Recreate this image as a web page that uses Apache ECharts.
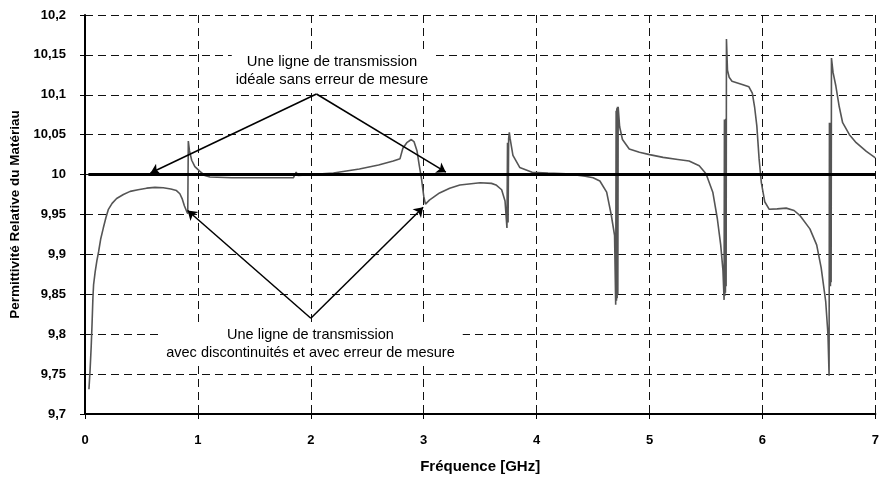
<!DOCTYPE html>
<html>
<head>
<meta charset="utf-8">
<script src="https://cdn.jsdelivr.net/npm/echarts@6/dist/echarts.min.js"></script>
<style>
html,body{margin:0;padding:0;background:#fff;}
#chart{width:882px;height:479px;}
</style>
</head>
<body>
<div id="chart"></div>
<script>
// Measured curve: frequency (GHz) and relative permittivity
const freq = [
  0.035,0.045,0.055,0.063,0.070,0.076,0.090,0.105,0.120,0.140,0.162,0.185,0.206,0.240,0.280,0.340,0.400,0.470,0.546,0.620,
  0.693,0.760,0.810,0.840,0.860,0.880,0.900,0.910,0.915,0.925,0.945,0.973,1.018,1.060,1.106,1.300,1.500,1.700,1.845,1.860,
  1.870,1.885,2.000,2.200,2.430,2.600,2.730,2.790,2.805,2.815,2.850,2.890,2.915,2.940,2.960,2.980,3.000,3.015,3.050,3.140,
  3.230,3.320,3.500,3.600,3.640,3.690,3.720,3.737,3.742,3.747,3.752,3.758,3.765,3.790,3.850,3.960,4.100,4.260,4.430,4.500,4.560,
  4.620,4.660,4.690,4.700,4.704,4.707,4.710,4.713,4.716,4.719,4.722,4.735,4.760,4.820,4.910,5.000,5.120,5.250,5.350,5.440,5.500,5.560,
  5.600,5.630,5.650,5.660,5.663,5.666,5.669,5.672,5.675,5.678,5.681,5.690,5.705,5.730,5.820,5.880,5.910,5.930,5.950,5.970,5.990,6.020,
  6.060,6.130,6.210,6.280,6.330,6.420,6.480,6.520,6.560,6.580,6.590,6.593,6.596,6.599,6.602,6.605,6.608,6.611,6.625,6.650,6.680,6.710,
  6.770,6.830,6.920,7.000
];
const perm = [
  9.731,9.755,9.785,9.815,9.845,9.862,9.878,9.892,9.903,9.920,9.933,9.946,9.956,9.964,9.970,9.975,9.979,9.981,9.983,9.984,
  9.9835,9.982,9.980,9.976,9.970,9.961,9.954,9.951,10.042,10.030,10.018,10.010,10.004,9.999,9.997,9.996,9.996,9.996,9.996,9.996,
  10.003,9.999,10.000,10.002,10.007,10.012,10.017,10.020,10.018,10.033,10.040,10.044,10.041,10.030,10.012,9.995,9.973,9.963,9.968,9.977,
  9.983,9.987,9.9897,9.989,9.987,9.981,9.967,9.933,10.040,9.940,10.045,10.053,10.045,10.024,10.009,10.003,10.002,10.001,9.998,9.996,9.992,
  9.978,9.950,9.924,9.837,10.080,9.842,10.083,9.845,10.085,9.850,10.085,10.060,10.044,10.032,10.028,10.025,10.0216,10.019,10.017,10.011,10.001,9.978,
  9.945,9.912,9.880,9.843,10.069,9.848,10.069,9.852,10.070,9.860,10.170,10.131,10.122,10.117,10.113,10.110,10.102,10.085,10.061,10.020,9.990,9.966,
  9.9565,9.957,9.958,9.955,9.949,9.932,9.912,9.883,9.841,9.800,9.748,10.065,9.860,10.065,9.860,10.065,9.865,10.146,10.128,10.111,10.085,10.065,
  10.050,10.040,10.029,10.021
];
// Ideal transmission line
const idealFreq = [0.03, 7];
const idealPerm = [10, 10];
// Annotation arrows: apex and end points [GHz, permittivity]
const topApex = [2.05, 10.101];
const topEnds = [[0.58, 10.002], [3.196, 10.003]];
const botApex = [2.0, 9.82];
const botEnds = [[0.909, 9.955], [2.995, 9.959]];
const topText = "Une ligne de transmission\nidéale sans erreur de mesure";
const botText = "Une ligne de transmission\navec discontinuités et avec erreur de mesure";
const xTitle = "Fréquence [GHz]";
const yTitle = "Permittivité Relative du Matériau";

const FONT = "'Liberation Sans', Arial, sans-serif";
const chart = echarts.init(document.getElementById('chart'), null, {renderer: 'canvas'});

const arrowData = [];
topEnds.forEach(e => arrowData.push({coords: [topApex, e]}));
botEnds.forEach(e => arrowData.push({coords: [botApex, e]}));

const fmt = v => String(+(+v).toFixed(2)).replace('.', ',');

chart.setOption({
  backgroundColor: '#fff',
  animation: false,
  grid: {left: 85, right: 6, top: 15, bottom: 62, containLabel: false},
  xAxis: {
    type: 'value', min: 0, max: 7, interval: 1,
    name: xTitle, nameLocation: 'middle', nameGap: 45,
    nameTextStyle: {fontFamily: FONT, fontWeight: 'bold', fontSize: 15, color: '#000'},
    axisLine: {lineStyle: {color: '#000', width: 2}},
    axisTick: {show: true, length: 5, lineStyle: {color: '#000', width: 1}},
    axisLabel: {fontFamily: FONT, fontWeight: 'bold', fontSize: 13, color: '#000', margin: 20},
    splitLine: {show: true, lineStyle: {color: '#111', width: 1, type: [8, 5]}}
  },
  yAxis: {
    type: 'value', min: 9.7, max: 10.2, interval: 0.05,
    name: yTitle, nameLocation: 'middle', nameGap: 61, nameRotate: 90,
    nameTextStyle: {fontFamily: FONT, fontWeight: 'bold', fontSize: 13.5, color: '#000'},
    axisLine: {show: true, lineStyle: {color: '#000', width: 2}},
    axisTick: {show: true, length: 5, lineStyle: {color: '#000', width: 1}},
    axisLabel: {fontFamily: FONT, fontWeight: 'bold', fontSize: 13, color: '#000', margin: 19, formatter: fmt},
    splitLine: {show: true, lineStyle: {color: '#111', width: 1, type: [8, 5]}}
  },
  series: [
    {
      type: 'line', name: 'mesure', data: freq.map((f, i) => [f, perm[i]]),
      showSymbol: false, symbol: 'none', smooth: false,
      lineStyle: {color: '#555', width: 1.6}, z: 3
    },
    {
      type: 'line', name: 'ideal', data: idealFreq.map((f, i) => [f, idealPerm[i]]),
      showSymbol: false, symbol: 'none',
      lineStyle: {color: '#000', width: 3}, z: 4
    },
    {
      type: 'lines', coordinateSystem: 'cartesian2d', data: arrowData,
      symbol: ['none', 'arrow'], symbolSize: 9,
      lineStyle: {color: '#000', width: 1.5, opacity: 1, curveness: 0}, z: 6
    }
  ],
  graphic: [
    {type: 'text', x: 332, y: 71, z: 5,
      style: {text: topText, align: 'center', verticalAlign: 'middle', textAlign: 'center', textVerticalAlign: 'middle',
        font: "14.8px " + FONT, lineHeight: 18.3, fill: '#000', backgroundColor: '#fff', padding: [1, 4]}},
    {type: 'text', x: 310.5, y: 344, z: 5,
      style: {text: botText, align: 'center', verticalAlign: 'middle', textAlign: 'center', textVerticalAlign: 'middle',
        font: "14.5px " + FONT, lineHeight: 18.3, fill: '#000', backgroundColor: '#fff', padding: [2, 8]}}
  ]
});
</script>
</body>
</html>
